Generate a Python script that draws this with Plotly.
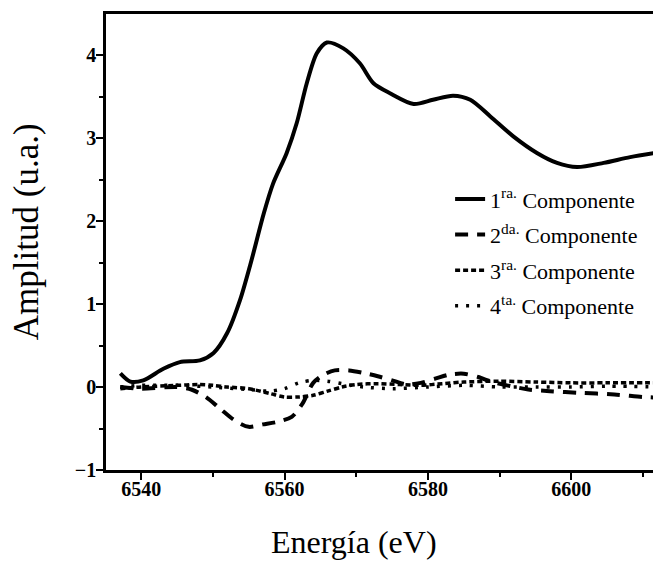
import plotly.graph_objects as go

# Curve data
x1 = [6537.1, 6538.5, 6540.3, 6543.1, 6545.4, 6548.2, 6550.1, 6552.0, 6553.8, 6555.4,
      6557.1, 6558.4, 6560.3, 6561.7, 6563.1, 6564.5, 6565.9, 6568.2, 6570.5, 6572.4,
      6574.7, 6578.0, 6580.7, 6583.5, 6585.9, 6588.7, 6591.9, 6595.2, 6598.0, 6600.8,
      6604.5, 6608.2, 6612.4]
y1 = [0.165, 0.065, 0.08, 0.22, 0.30, 0.32, 0.41, 0.65, 1.05, 1.53,
      2.09, 2.45, 2.82, 3.18, 3.66, 4.02, 4.15, 4.08, 3.90, 3.66,
      3.54, 3.41, 3.46, 3.51, 3.46, 3.26, 3.02, 2.82, 2.70, 2.65,
      2.70, 2.77, 2.83]

x2 = [6537.1, 6540, 6545, 6547, 6549, 6551, 6553, 6555, 6557, 6559, 6561, 6562.5,
      6564, 6565.5, 6567, 6569, 6571, 6573, 6575, 6577, 6579, 6581, 6583, 6585,
      6587, 6589, 6591, 6594, 6597, 6601, 6606, 6610, 6612.5]
y2 = [0.0, -0.02, 0.0, -0.03, -0.12, -0.26, -0.40, -0.48, -0.45, -0.42, -0.36, -0.2,
      0.05, 0.15, 0.20, 0.20, 0.17, 0.13, 0.08, 0.03, 0.05, 0.10, 0.15, 0.16,
      0.12, 0.06, 0.02, -0.03, -0.05, -0.07, -0.09, -0.12, -0.13]

x3 = [6537.1, 6540, 6545, 6548, 6550, 6552, 6555, 6558, 6560, 6562, 6564, 6566,
      6568, 6570, 6573, 6576, 6579, 6582, 6585, 6590, 6595, 6600, 6605, 6612.5]
y3 = [-0.02, 0.0, 0.02, 0.03, 0.02, 0.0, -0.02, -0.08, -0.12, -0.12, -0.10, -0.05,
      0.0, 0.03, 0.04, 0.03, 0.02, 0.04, 0.06, 0.07, 0.06, 0.05, 0.05, 0.05]

x4 = [6537.1, 6540, 6545, 6550, 6553, 6555, 6558, 6560, 6562, 6564, 6566, 6568,
      6571, 6575, 6580, 6585, 6590, 6595, 6600, 6605, 6612.5]
y4 = [0.0, 0.02, 0.02, 0.0, -0.02, -0.03, -0.05, -0.02, 0.05, 0.08, 0.07, 0.04,
      0.0, -0.02, 0.0, 0.02, 0.0, 0.0, 0.0, 0.01, 0.0]

names = ["1<sup>ra.</sup> Componente", "2<sup>da.</sup> Componente",
         "3<sup>ra.</sup> Componente", "4<sup>ta.</sup> Componente"]

xtick_vals = [6540, 6560, 6580, 6600]
ytick_vals = [-1, 0, 1, 2, 3, 4]
x_title = "Energía (eV)"
y_title = "Amplitud (u.a.)"

fig = go.Figure()
series = [(x1, y1, "solid", 4), (x2, y2, "13px,9px", 4),
          (x3, y3, "5px,3px", 3.5), (x4, y4, "3px,8px", 3.5)]
for i, (xs, ys, dash, w) in enumerate(series):
    fig.add_trace(go.Scatter(x=xs, y=ys, mode="lines", name=names[i],
                             legendgroup=f"g{i}",
                             line=dict(color="black", width=w, dash=dash,
                                       shape="spline", smoothing=0.8)))

serif = "Liberation Serif"
fig.update_layout(
    width=653, height=553,
    margin=dict(l=98, r=0, t=6, b=91),
    paper_bgcolor="white", plot_bgcolor="white",
    font=dict(family=serif, color="black"),
    showlegend=True,
    legend=dict(x=0.62, y=0.64, xanchor="left", yanchor="top",
                bgcolor="rgba(0,0,0,0)", tracegroupgap=4,
                font=dict(family=serif, size=22, color="black")),
    annotations=[
        dict(text=x_title, xref="paper", yref="paper", x=0.447, y=-0.158,
             xanchor="center", yanchor="middle", showarrow=False,
             font=dict(family=serif, size=32, color="black")),
        dict(text=y_title, xref="paper", yref="paper", x=-0.142, y=0.522,
             xanchor="center", yanchor="middle", showarrow=False, textangle=-90,
             font=dict(family=serif, size=35, color="black")),
    ],
)
fig.update_xaxes(
    range=[6535.1, 6612.5], tickmode="array", tickvals=xtick_vals,
    ticks="outside", ticklen=7, tickwidth=2, tickcolor="black",
    minor=dict(dtick=10, tick0=6530, ticks="outside", ticklen=4, tickwidth=2, tickcolor="black"),
    showline=True, linewidth=2.5, linecolor="black", mirror=True,
    showgrid=False, zeroline=False, ticklabelstandoff=-8,
    tickfont=dict(family=serif, size=20, color="black", weight="bold"),
)
fig.update_yaxes(
    range=[-1, 4.494], tickmode="array", tickvals=ytick_vals,
    ticks="outside", ticklen=7, tickwidth=2, tickcolor="black",
    minor=dict(dtick=0.5, tick0=-1, ticks="outside", ticklen=4, tickwidth=2, tickcolor="black"),
    showline=True, linewidth=2.5, linecolor="black", mirror=False,
    showgrid=False, zeroline=False, ticklabelstandoff=-4,
    tickfont=dict(family=serif, size=20, color="black", weight="bold"),
)

fig.write_html("out.html")
